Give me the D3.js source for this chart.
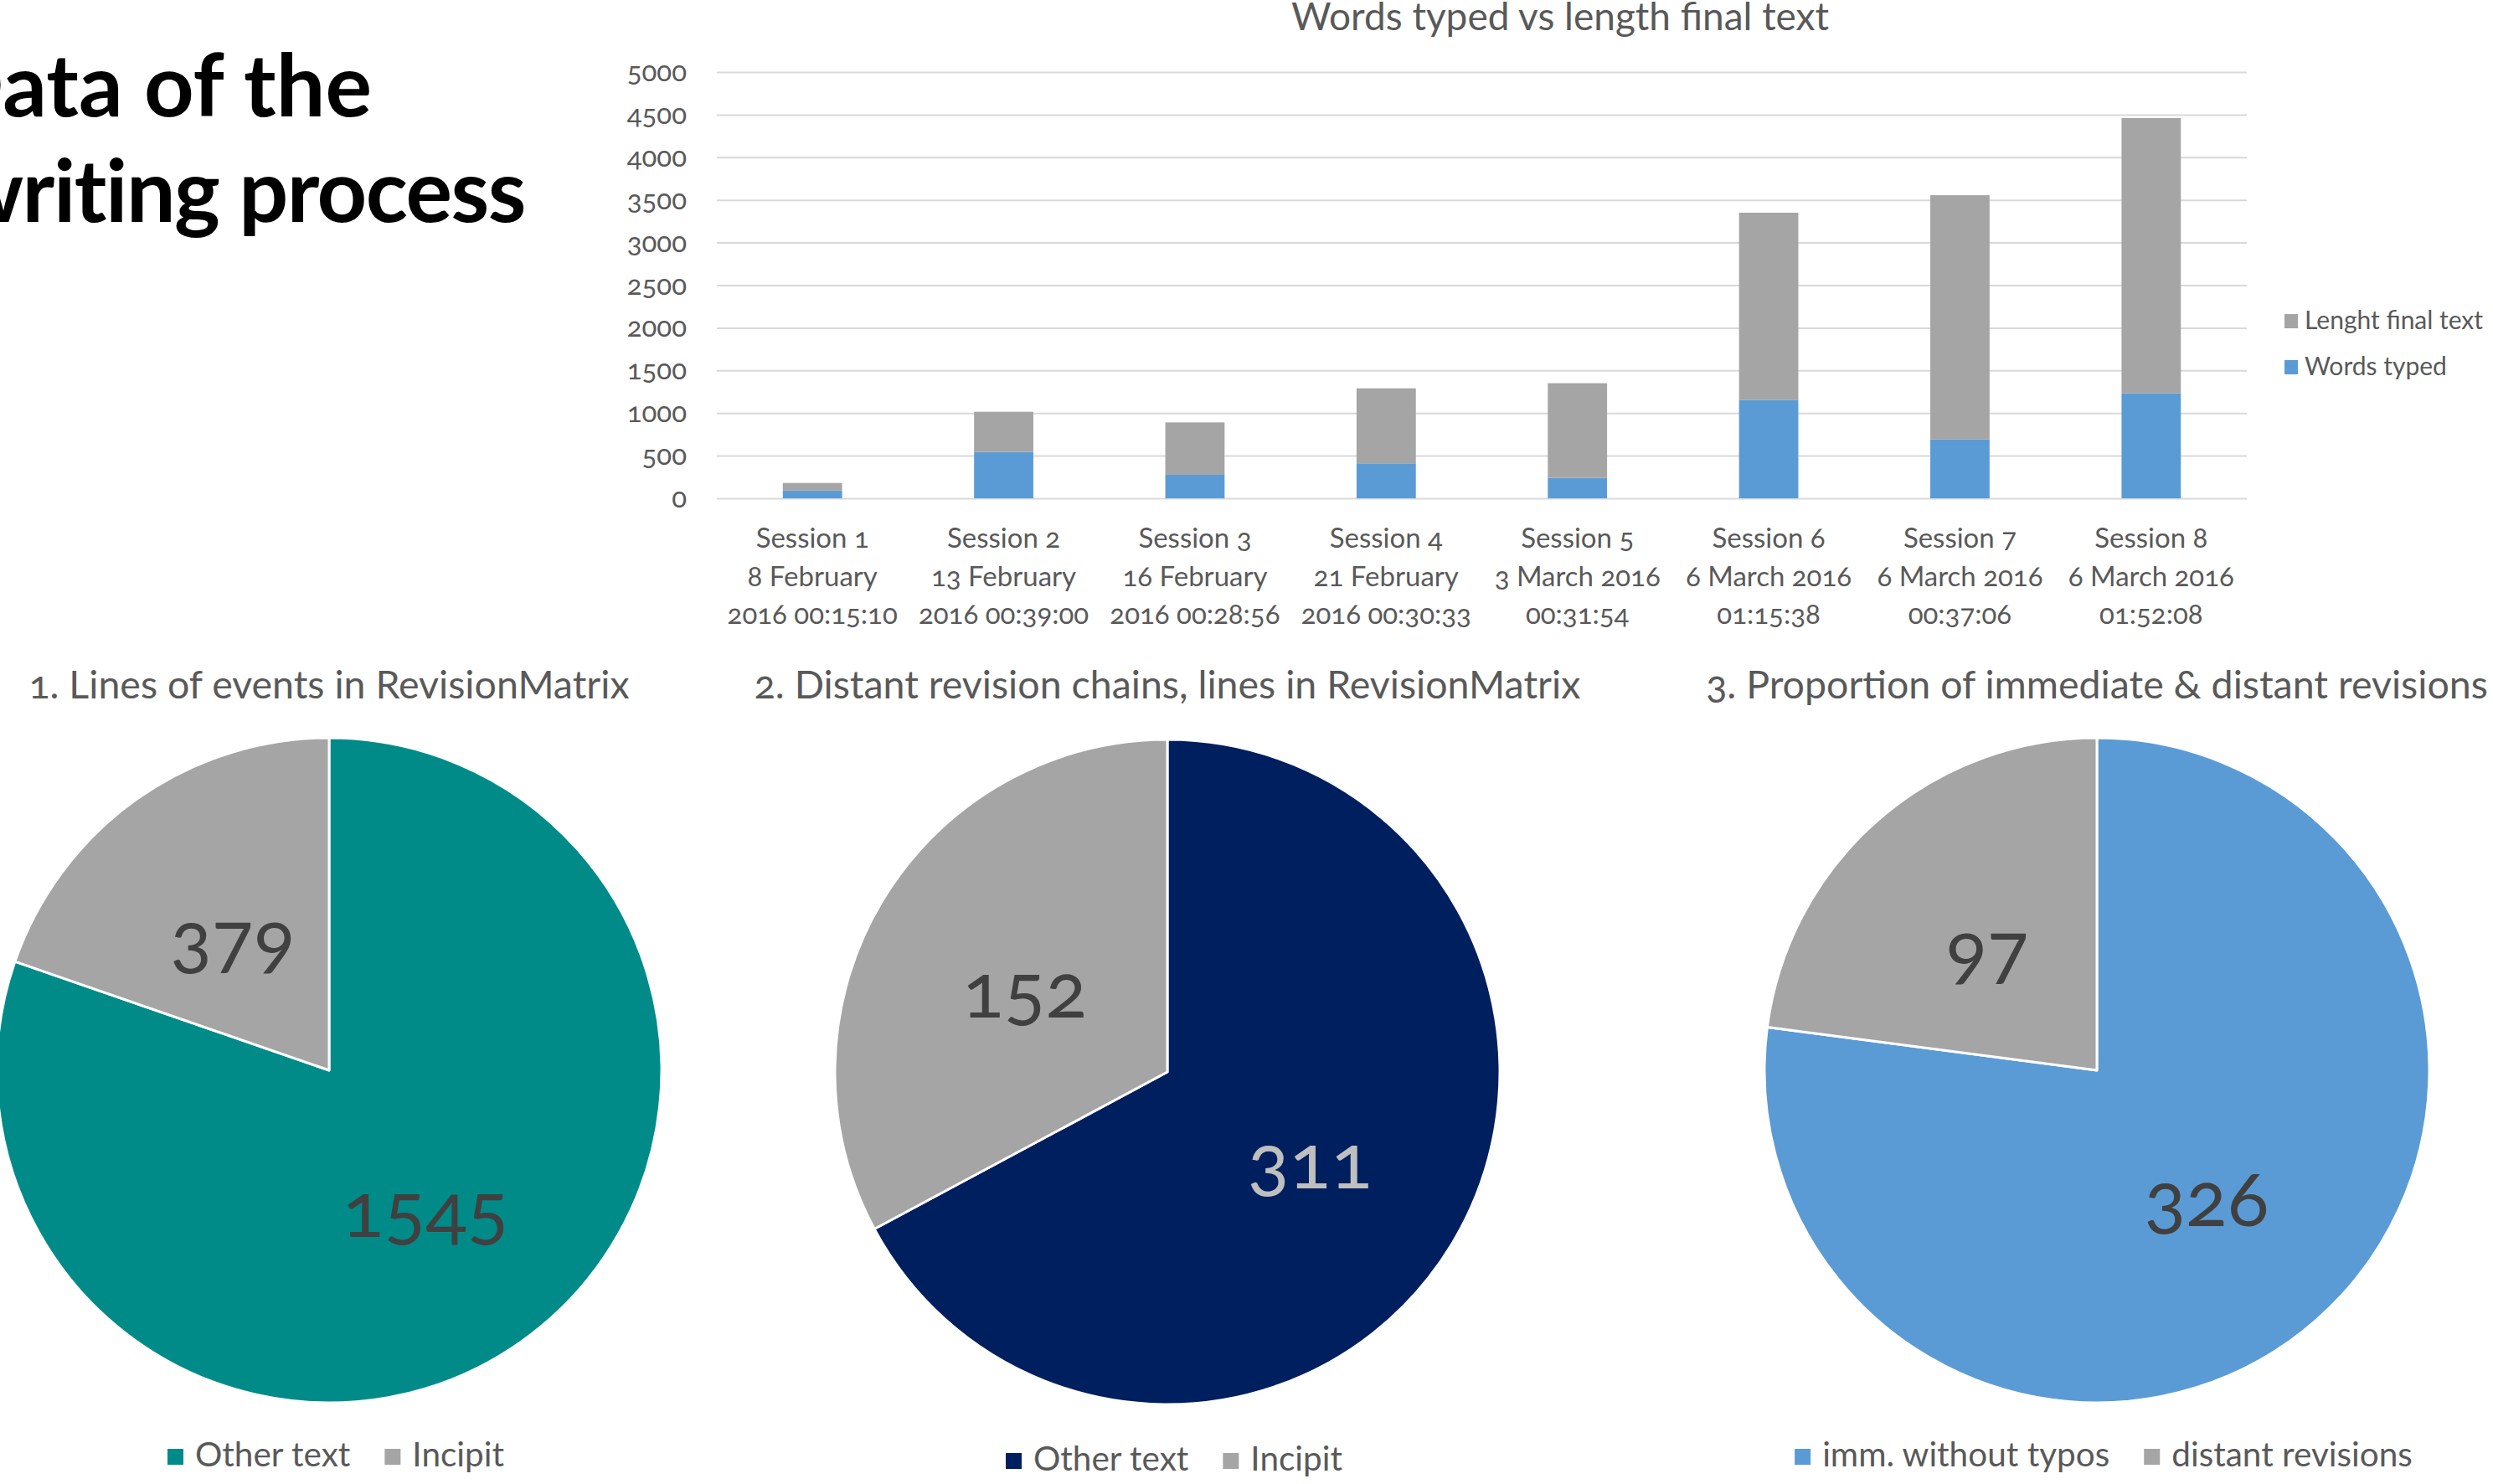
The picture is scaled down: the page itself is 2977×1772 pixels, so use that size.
<!DOCTYPE html>
<html lang="en">
<head>
    <meta charset="UTF-8">
    <title>Data of the writing process</title>
    <script src="https://cdnjs.cloudflare.com/ajax/libs/d3/7.8.5/d3.min.js"></script>
    <style>
        body { margin: 0; background: #fff; }
        svg { display: block; font-family: Lato, "Open Sans", sans-serif; font-feature-settings: "onum" 1; }
        .grid line { stroke: #d9d9d9; stroke-width: 2; }
        .grid .domain { display: none; }
    </style>
</head>
<body>
    <svg id="chart" width="2977" height="1772"></svg>

    <script>
        // ---- data ----
        const sessions = ["Session 1", "Session 2", "Session 3", "Session 4", "Session 5", "Session 6", "Session 7", "Session 8"];
        const sessionDates = ["8 February", "13 February", "16 February", "21 February", "3 March 2016", "6 March 2016", "6 March 2016", "6 March 2016"];
        const sessionTimes = ["2016 00:15:10", "2016 00:39:00", "2016 00:28:56", "2016 00:30:33", "00:31:54", "01:15:38", "00:37:06", "01:52:08"];
        const wordsTyped = [90, 545, 275, 410, 240, 1155, 690, 1230];
        const lenghtFinal = [90, 470, 615, 880, 1110, 2195, 2865, 3230];
        const yTicks = [0, 500, 1000, 1500, 2000, 2500, 3000, 3500, 4000, 4500, 5000];
        const barSeries = ["Words typed", "Lenght final text"];

        const pie1Labels = ["Other text", "Incipit"];
        const pie1Values = [1545, 379];
        const pie2Labels = ["Other text", "Incipit"];
        const pie2Values = [311, 152];
        const pie3Labels = ["imm. without typos", "distant revisions"];
        const pie3Values = [326, 97];

        const svg = d3.select("#chart");
        const textColor = "#595959";

        // ---- big heading (cut off on the left like the slide) ----
        const heading = svg.append("g")
            .attr("font-weight", 700)
            .attr("font-size", 104)
            .attr("fill", "#000")
            .attr("text-anchor", "end");
        heading.append("text").attr("x", 444).attr("y", 139).text("Data of the");
        heading.append("text").attr("x", 627).attr("y", 265).attr("letter-spacing", -1.5).text("writing process");

        // ---- stacked bar chart ----
        const x = d3.scaleBand()
            .domain(sessions)
            .range([856, 2683])
            .paddingInner(0.69)
            .paddingOuter(0.345);

        const y = d3.scaleLinear()
            .domain([0, 5000])
            .range([595, 86]);

        const barColors = d3.scaleOrdinal()
            .domain(barSeries)
            .range(["#5b9bd5", "#a5a5a5"]);

        // gridlines + y labels
        svg.append("g")
            .attr("class", "grid")
            .attr("transform", "translate(856,0)")
            .call(d3.axisLeft(y).tickValues(yTicks).tickSize(-(2683 - 856)).tickPadding(36).tickFormat(d3.format("d")))
            .call(g => g.selectAll("text")
                .attr("fill", textColor)
                .attr("font-size", 33)
                .attr("font-family", "Lato, sans-serif"));

        const rows = sessions.map((s, i) => ({ session: s, "Words typed": wordsTyped[i], "Lenght final text": lenghtFinal[i] }));
        const stacked = d3.stack().keys(barSeries)(rows);

        svg.append("g")
            .selectAll("g")
            .data(stacked)
            .join("g")
            .attr("fill", d => barColors(d.key))
            .selectAll("rect")
            .data(d => d)
            .join("rect")
            .attr("x", d => x(d.data.session))
            .attr("y", d => y(d[1]))
            .attr("width", x.bandwidth())
            .attr("height", d => y(d[0]) - y(d[1]));

        // x labels, three lines each
        const xAxis = svg.append("g")
            .attr("transform", "translate(0,595)")
            .call(d3.axisBottom(x).tickSize(0).tickFormat(""))
            .call(g => g.select(".domain").remove());

        xAxis.selectAll(".tick text").remove();
        xAxis.selectAll(".tick").each(function (d, i) {
            const t = d3.select(this).append("text")
                .attr("fill", textColor)
                .attr("font-size", 33)
                .attr("font-family", "Lato, sans-serif")
                .attr("text-anchor", "middle");
            [sessions[i], sessionDates[i], sessionTimes[i]].forEach((line, k) => {
                t.append("tspan").attr("x", 0).attr("y", 59 + k * 45.5).text(line);
            });
        });

        svg.append("text")
            .attr("x", 1863)
            .attr("y", 36)
            .attr("text-anchor", "middle")
            .attr("font-size", 46)
            .attr("fill", textColor)
            .text("Words typed vs length final text");

        // legend (reversed order like Excel)
        const barLegend = svg.append("g")
            .selectAll("g")
            .data(barSeries.slice().reverse())
            .join("g")
            .attr("transform", (d, i) => `translate(2728,${383 + i * 55})`);
        barLegend.append("rect")
            .attr("y", -8).attr("width", 16).attr("height", 17)
            .attr("fill", d => barColors(d));
        barLegend.append("text")
            .attr("x", 24).attr("y", 10)
            .attr("font-size", 30)
            .attr("fill", textColor)
            .text(d => d);

        // ---- pies ----
        const pies = [
            { title: "1. Lines of events in RevisionMatrix", labels: pie1Labels, values: pie1Values,
              colors: ["#008b89", "#a5a5a5"], labelColors: ["#404040", "#404040"], cx: 393, cy: 1278, legendY: 1751 },
            { title: "2. Distant revision chains, lines in RevisionMatrix", labels: pie2Labels, values: pie2Values,
              colors: ["#001f5f", "#a5a5a5"], labelColors: ["#bfbfbf", "#404040"], cx: 1394, cy: 1280, legendY: 1756 },
            { title: "3. Proportion of immediate & distant revisions", labels: pie3Labels, values: pie3Values,
              colors: ["#5b9bd5", "#a5a5a5"], labelColors: ["#404040", "#404040"], cx: 2504, cy: 1278, legendY: 1751 }
        ];

        const r = 397;
        const pie = d3.pie().sort(null);
        const arc = d3.arc().innerRadius(0).outerRadius(r);
        const labelArc = d3.arc().innerRadius(r * 0.5).outerRadius(r * 0.5);

        pies.forEach(p => {
            const g = svg.append("g").attr("transform", `translate(${p.cx},${p.cy})`);
            const arcs = pie(p.values);

            g.selectAll("path")
                .data(arcs)
                .join("path")
                .attr("d", arc)
                .attr("fill", (d, i) => p.colors[i])
                .attr("stroke", "#fff")
                .attr("stroke-width", 3)
                .attr("stroke-linejoin", "round");

            g.selectAll("text.val")
                .data(arcs)
                .join("text")
                .attr("class", "val")
                .attr("transform", d => `translate(${labelArc.centroid(d)})`)
                .attr("dy", 37)
                .attr("text-anchor", "middle")
                .attr("font-size", 92)
                .attr("fill", (d, i) => p.labelColors[i])
                .text(d => d.value);

            svg.append("text")
                .attr("x", p.cx)
                .attr("y", 834)
                .attr("text-anchor", "middle")
                .attr("font-size", 46.5)
                .attr("fill", textColor)
                .text(p.title);

            // legend, centred under the pie
            const lg = svg.append("g");
            let pos = 0;
            p.labels.forEach((lab, i) => {
                const item = lg.append("g").attr("transform", `translate(${pos},0)`);
                item.append("rect")
                    .attr("y", -21).attr("width", 19).attr("height", 19)
                    .attr("fill", p.colors[i]);
                const t = item.append("text")
                    .attr("x", 33)
                    .attr("font-size", 40.5)
                    .attr("fill", textColor)
                    .text(lab);
                pos += 33 + t.node().getComputedTextLength() + 41;
            });
            const total = pos - 41;
            lg.attr("transform", `translate(${p.cx + 8 - total / 2},${p.legendY})`);
        });
    </script>
</body>
</html>
